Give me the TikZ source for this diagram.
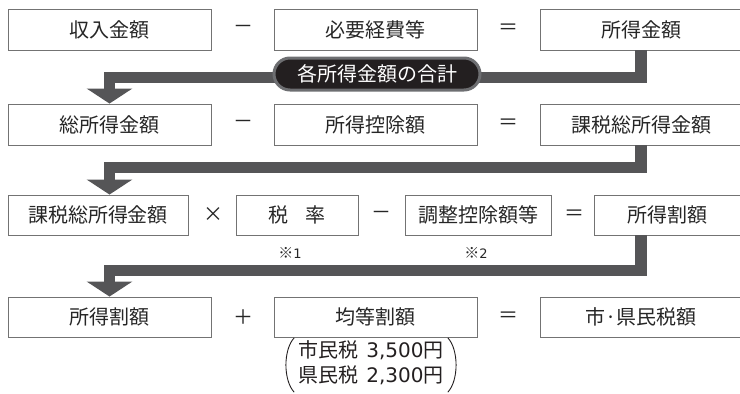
\documentclass[tikz,border=0pt]{standalone}
\usepackage{fontspec}
\setmainfont{Noto Sans CJK JP}
\newfontfamily\numfont{DejaVu Sans}
\usetikzlibrary{arrows.meta}
\definecolor{barcol}{HTML}{555557}
\definecolor{pillcol}{HTML}{231F20}
\definecolor{rimcol}{HTML}{6D6E71}
\begin{document}
\begin{tikzpicture}[x=1pt,y=-1pt,
  box/.style={draw=black!55,line width=0.9pt,inner sep=0pt,minimum height=41pt,text=black!85,font=\fontsize{20}{24}\selectfont},
  op/.style={text=black!85,font=\fontsize{20}{24}\selectfont},
  mark note/.style={text=black!85,font=\fontsize{15}{17}\selectfont},
  pill/.style={fill=pillcol,draw=rimcol,line width=3pt,rounded corners=16pt,minimum width=206pt,minimum height=32pt,inner sep=0pt,text=white,font=\fontsize{20}{24}\selectfont},
  paren/.style={draw=pillcol,line width=0.9pt},
  flow/.style={draw=barcol,line width=11.5pt,-{Triangle[length=15pt,width=45pt]}}]
\useasboundingbox (0,0) rectangle (740,394);
\def \ya{29.5}
\def \yb{124.5}
\def \yc{215}
\def \yd{317}
\node[box,minimum width=203pt] (r1a) at (109.5,\ya) {収入金額};
\node[op] (r1m) at (243,\ya) {－};
\node[box,minimum width=203pt] (r1b) at (375.5,\ya) {必要経費等};
\node[op] (r1e) at (508,\ya) {＝};
\node[box,minimum width=202pt] (r1c) at (641,\ya) {所得金額};
\node[box,minimum width=203pt] (r2a) at (109.5,\yb) {総所得金額};
\node[op] (r2m) at (243,\yb) {－};
\node[box,minimum width=203pt] (r2b) at (375.5,\yb) {所得控除額};
\node[op] (r2e) at (508,\yb) {＝};
\node[box,minimum width=202pt] (r2c) at (641,\yb) {課税総所得金額};
\node[box,minimum width=180pt,minimum height=40pt] (r3a) at (98,\yc) {課税総所得金額};
\node[op] (r3x) at (213,\yc) {×};
\node[box,minimum width=122pt,minimum height=40pt] (r3b) at (297,\yc) {税\hspace{17pt}率};
\node[op] (r3m) at (381,\yc) {－};
\node[box,minimum width=146pt,minimum height=40pt] (r3c) at (478.5,\yc) {調整控除額等};
\node[op] (r3e) at (574,\yc) {＝};
\node[box,minimum width=147pt,minimum height=40pt] (r3d) at (667.5,\yc) {所得割額};
\node[mark note] (n1) at (290,253) {※{\numfont\fontsize{13}{15}\selectfont 1}};
\node[mark note] (n2) at (476,253) {※{\numfont\fontsize{13}{15}\selectfont 2}};
\node[box,minimum width=203pt,minimum height=40pt] (r4a) at (109.5,\yd) {所得割額};
\node[op] (r4p) at (243,\yd) {＋};
\node[box,minimum width=203pt,minimum height=40pt] (r4b) at (375.5,\yd) {均等割額};
\node[op] (r4e) at (508,\yd) {＝};
\node[box,minimum width=202pt,minimum height=40pt] (r4c) at (641,\yd) {市·県民税額};
\node[text=pillcol,inner xsep=4pt,inner ysep=2pt,font=\fontsize{20}{25}\selectfont] (kintou) at (371,365) {\begin{tabular}{@{}l@{}}市民税\hspace{8pt}{\numfont 3,500}円\\県民税\hspace{8pt}{\numfont 2,300}円\end{tabular}};
\draw[paren] (kintou.north west) .. controls ([xshift=-11pt,yshift=-12pt]kintou.north west) and ([xshift=-11pt,yshift=12pt]kintou.south west) .. (kintou.south west);
\draw[paren] (kintou.north east) .. controls ([xshift=11pt,yshift=-12pt]kintou.north east) and ([xshift=11pt,yshift=12pt]kintou.south east) .. (kintou.south east);
\draw[flow] (r1c.south) -- ++(0,27) -| (r2a.north);
\node[pill] (sum) at (377,74) {各所得金額の合計};
\draw[flow] (r2c.south) -- ++(0,22) -| (r3a.north -| r2a.south);
\draw[flow] (r3d.south -| r2c.south) -- ++(0,35) -| (r4a.north);
\end{tikzpicture}
\end{document}
